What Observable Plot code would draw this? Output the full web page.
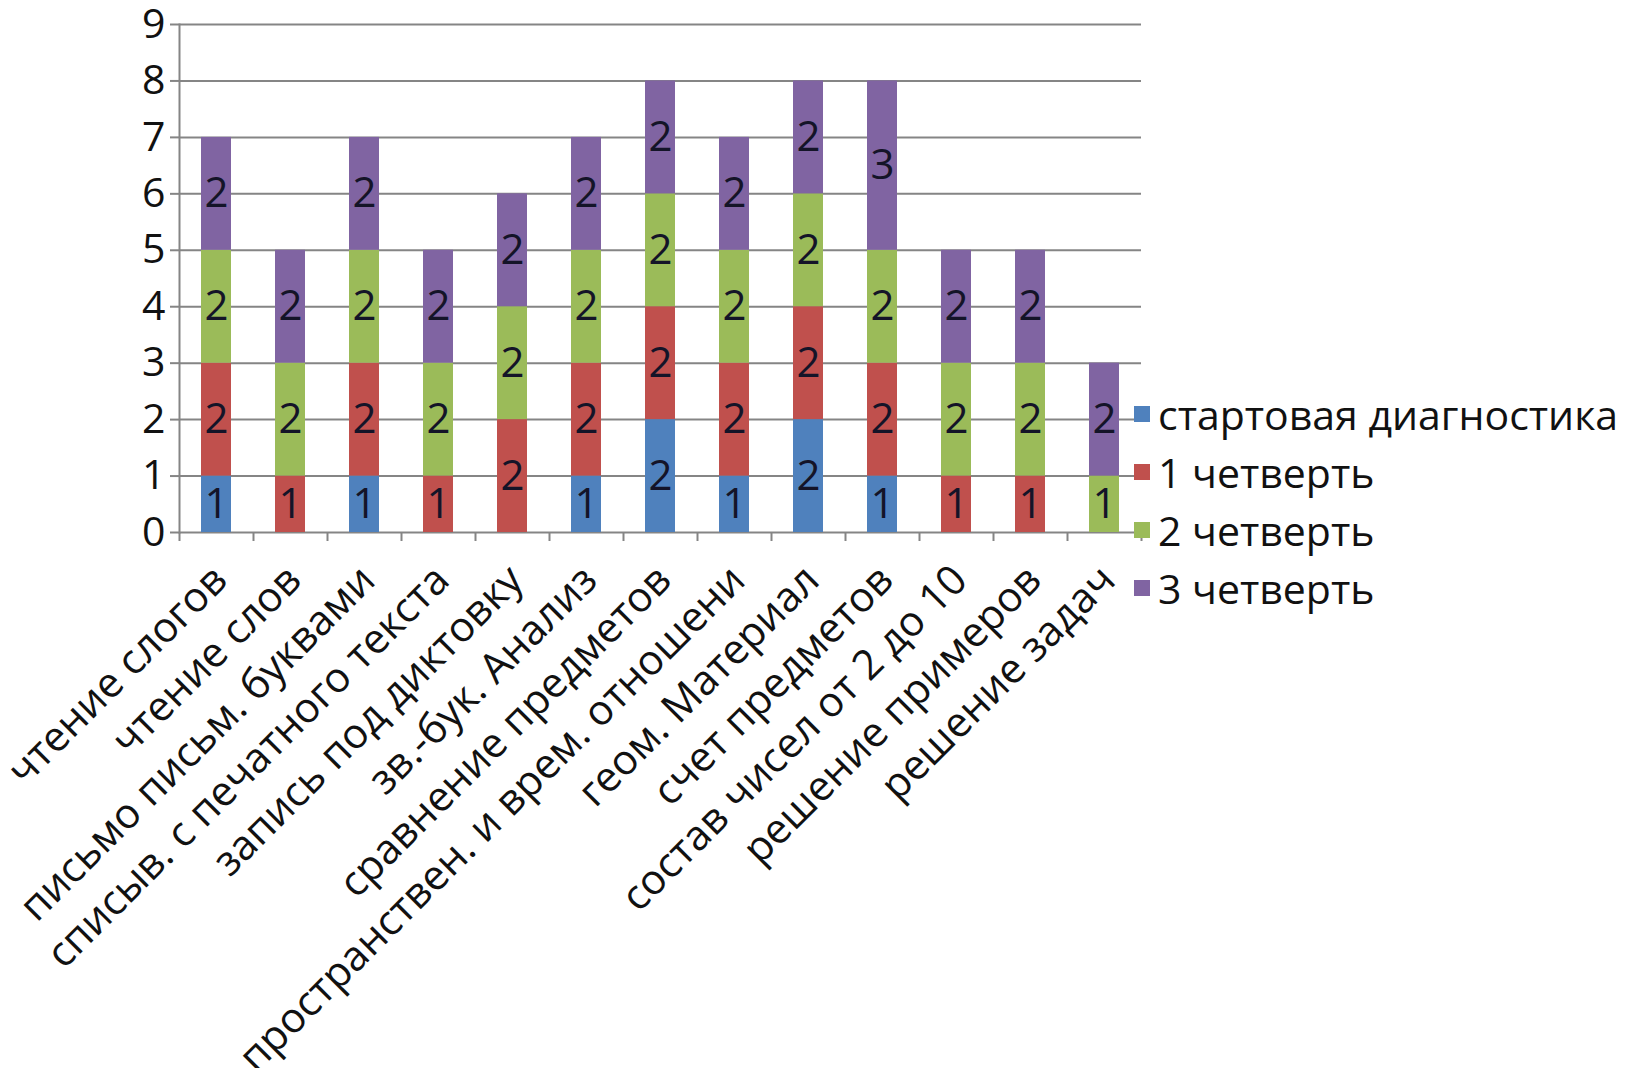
<!DOCTYPE html>
<html>
<head>
<meta charset="utf-8">
<script src="https://cdn.jsdelivr.net/npm/d3@7"></script>
<script src="https://cdn.jsdelivr.net/npm/@observablehq/plot@0.6"></script>
<style>
  body { margin: 0; background: #fff; font-family: "Open Sans", sans-serif; }
  #wrap { position: relative; width: 1636px; height: 1068px; overflow: hidden; }
  #legend { position: absolute; left: 1134px; top: 385px; }
  .item { display: flex; align-items: center; height: 58px; font-size: 41px; color: #111; white-space: nowrap; }
  .sw { width: 16px; height: 16px; margin-right: 8px; flex: none; }
</style>
</head>
<body>
<div id="wrap"><div id="legend"></div></div>
<script>
const categories = [
  "чтение слогов",
  "чтение слов",
  "письмо письм. буквами",
  "списыв. с печатного текста",
  "запись под диктовку",
  "зв.-бук. Анализ",
  "сравнение предметов",
  "пространствен. и врем. отношени",
  "геом. Материал",
  "счет предметов",
  "состав чисел от 2 до 10",
  "решение примеров",
  "решение задач"
];
const seriesNames = ["стартовая диагностика", "1 четверть", "2 четверть", "3 четверть"];
const startDiag = [1, 0, 1, 0, 0, 1, 2, 1, 2, 1, 0, 0, 0];
const quarter1  = [2, 1, 2, 1, 2, 2, 2, 2, 2, 2, 1, 1, 0];
const quarter2  = [2, 2, 2, 2, 2, 2, 2, 2, 2, 2, 2, 2, 1];
const quarter3  = [2, 2, 2, 2, 2, 2, 2, 2, 2, 3, 2, 2, 2];
const seriesColors = ["#4F81BD", "#C0504D", "#9BBB59", "#8064A2"];
const yTicks = [0, 1, 2, 3, 4, 5, 6, 7, 8, 9];

const seriesValues = [startDiag, quarter1, quarter2, quarter3];
const data = [];
categories.forEach((c, i) => {
  seriesValues.forEach((arr, s) => {
    data.push({cat: c, series: seriesNames[s], value: arr[i]});
  });
});
const nonZero = data.filter(d => d.value > 0);

const gridColor = "#858585";
const halfStep = 37;

const chart = Plot.plot({
  width: 1636,
  height: 1068,
  marginLeft: 179,
  marginRight: 495,
  marginTop: 24,
  marginBottom: 536,
  style: {fontFamily: "Open Sans", fontSize: "40px", color: "#111", background: "white", overflow: "visible"},
  x: {domain: categories, paddingInner: 0.6, paddingOuter: 0.3, axis: null},
  y: {domain: [0, 9], axis: null},
  color: {domain: seriesNames, range: seriesColors},
  marks: [
    Plot.ruleY(yTicks, {stroke: gridColor, strokeWidth: 2}),
    Plot.frame({anchor: "left", stroke: gridColor, strokeWidth: 2}),
    Plot.axisY({ticks: yTicks, tickSize: 9, tickPadding: 5, stroke: gridColor, strokeWidth: 2,
                fill: "#111", fontSize: 41, label: null, tickFormat: d => String(d)}),
    Plot.ruleX(categories, {x: d => d, y1: 0, y2: 0, insetBottom: -9, dx: -halfStep, stroke: gridColor, strokeWidth: 2}),
    Plot.ruleX(categories.slice(-1), {x: d => d, y1: 0, y2: 0, insetBottom: -9, dx: halfStep, stroke: gridColor, strokeWidth: 2}),
    Plot.barY(nonZero, {x: "cat", y: "value", fill: "series", order: seriesNames}),
    Plot.text(nonZero, Plot.stackY({x: "cat", y: "value", z: "series", order: seriesNames, text: d => String(d.value),
                                    fontSize: 42, fill: "#141428"})),
    Plot.text(categories, {x: d => d, frameAnchor: "bottom", dx: 13, dy: 50, rotate: -45, textAnchor: "end",
                           fontSize: 41.5, fill: "#111"})
  ]
});
const wrap = document.getElementById("wrap");
wrap.insertBefore(chart, wrap.firstChild);

const legend = document.getElementById("legend");
seriesNames.forEach((name, i) => {
  const item = document.createElement("div");
  item.className = "item";
  const sw = document.createElement("span");
  sw.className = "sw";
  sw.style.background = seriesColors[i];
  const label = document.createElement("span");
  label.textContent = name;
  item.appendChild(sw);
  item.appendChild(label);
  legend.appendChild(item);
});
</script>
</body>
</html>
